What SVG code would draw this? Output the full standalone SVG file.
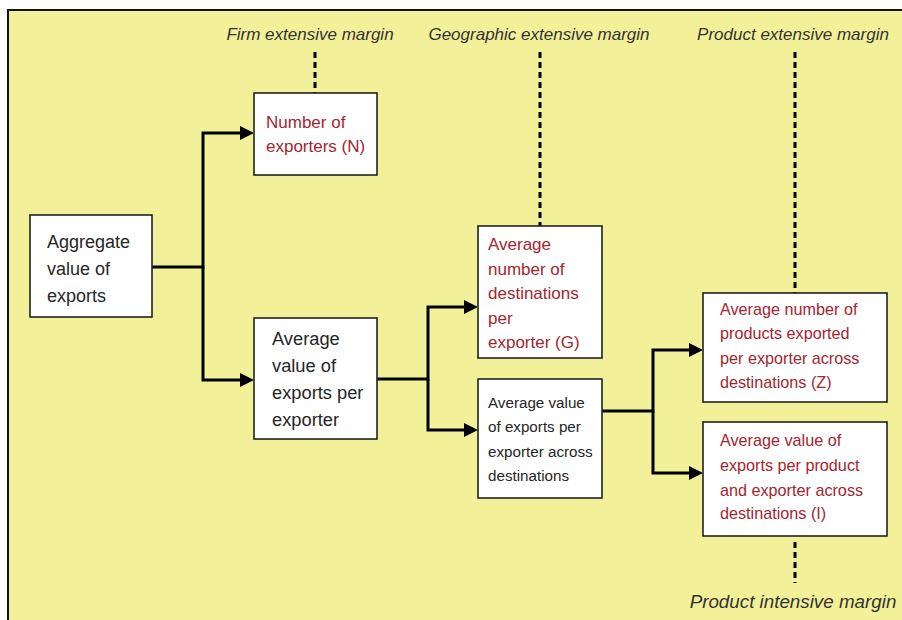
<svg xmlns="http://www.w3.org/2000/svg" width="902" height="620" viewBox="0 0 902 620">
<defs>
<marker id="arr" viewBox="0 0 14 14" markerWidth="14" markerHeight="14" markerUnits="userSpaceOnUse" refX="0" refY="7" orient="auto">
<path d="M0,0 L14,7 L0,14 z" fill="#000"/>
</marker>
</defs>
<style>
.box{fill:#fff;stroke:#222;stroke-width:1.6}
.t{font-family:"Liberation Sans","DejaVu Sans",sans-serif;fill:#262626}
.r{font-family:"Liberation Sans","DejaVu Sans",sans-serif;fill:#A3262E}
.lab{font-family:"Liberation Sans","DejaVu Sans",sans-serif;font-style:italic;font-size:17px;fill:#333;text-anchor:middle}
.lab.big{font-size:18.8px}
.conn{fill:none;stroke:#000;stroke-width:3;stroke-linejoin:miter}
.dash{fill:none;stroke:#000;stroke-width:3;stroke-dasharray:6 4}
</style>
<rect x="0" y="0" width="902" height="620" fill="#fff"/>
<rect x="8" y="10" width="900" height="620" fill="#F3F09A" stroke="#111" stroke-width="2"/>

<g id="labels">
<text class="lab" x="310" y="40">Firm extensive margin</text>
<text class="lab" x="539" y="40">Geographic extensive margin</text>
<text class="lab" x="793" y="40">Product extensive margin</text>
<text class="lab big" x="793" y="608">Product intensive margin</text>
</g>

<g id="connectors">
<path class="conn" d="M152,267 H203 V133 H240" marker-end="url(#arr)"/>
<path class="conn" d="M203,267 V380 H240" marker-end="url(#arr)"/>
<path class="conn" d="M377,379 H428 V307 H464" marker-end="url(#arr)"/>
<path class="conn" d="M428,379 V430 H464" marker-end="url(#arr)"/>
<path class="conn" d="M602,411 H653 V350 H689" marker-end="url(#arr)"/>
<path class="conn" d="M653,411 V473 H689" marker-end="url(#arr)"/>
<path class="dash" d="M315,52 V93"/>
<path class="dash" d="M540,52 V226"/>
<path class="dash" d="M795,52 V293"/>
<path class="dash" d="M795,542 V583"/>
</g>

<g id="aggregate">
<rect class="box" x="30" y="215" width="122" height="102"/>
<text class="t" font-size="18"><tspan x="47" y="248">Aggregate</tspan><tspan x="47" y="275">value of</tspan><tspan x="47" y="302">exports</tspan></text>
</g>

<g id="exporters-n">
<rect class="box" x="254" y="93" width="123" height="82"/>
<text class="r" font-size="17"><tspan x="266" y="128">Number of</tspan><tspan x="266" y="152">exporters (N)</tspan></text>
</g>

<g id="avg-value-per-exporter">
<rect class="box" x="254" y="318" width="123" height="121"/>
<text class="t" font-size="18.3"><tspan x="272" y="345">Average</tspan><tspan x="272" y="372">value of</tspan><tspan x="272" y="399">exports per</tspan><tspan x="272" y="426">exporter</tspan></text>
</g>

<g id="destinations-g">
<rect class="box" x="478" y="226" width="124" height="132" stroke-width="2"/>
<text class="r" font-size="17"><tspan x="488" y="250">Average</tspan><tspan x="488" y="275">number of</tspan><tspan x="488" y="299">destinations</tspan><tspan x="488" y="324">per</tspan><tspan x="488" y="348">exporter (G)</tspan></text>
</g>

<g id="avg-value-across-destinations">
<rect class="box" x="478" y="379" width="124" height="119"/>
<text class="t" font-size="15.2"><tspan x="488" y="408">Average value</tspan><tspan x="488" y="432">of exports per</tspan><tspan x="488" y="457">exporter across</tspan><tspan x="488" y="481">destinations</tspan></text>
</g>

<g id="products-z">
<rect class="box" x="703" y="293" width="184" height="109"/>
<text class="r" font-size="16.2"><tspan x="720" y="315">Average number of</tspan><tspan x="720" y="339">products exported</tspan><tspan x="720" y="364">per exporter across</tspan><tspan x="720" y="388">destinations (Z)</tspan></text>
</g>

<g id="value-per-product-i">
<rect class="box" x="703" y="422" width="184" height="114"/>
<text class="r" font-size="16.2"><tspan x="720" y="446">Average value of</tspan><tspan x="720" y="471">exports per product</tspan><tspan x="720" y="496">and exporter across</tspan><tspan x="720" y="519">destinations (I)</tspan></text>
</g>
</svg>
